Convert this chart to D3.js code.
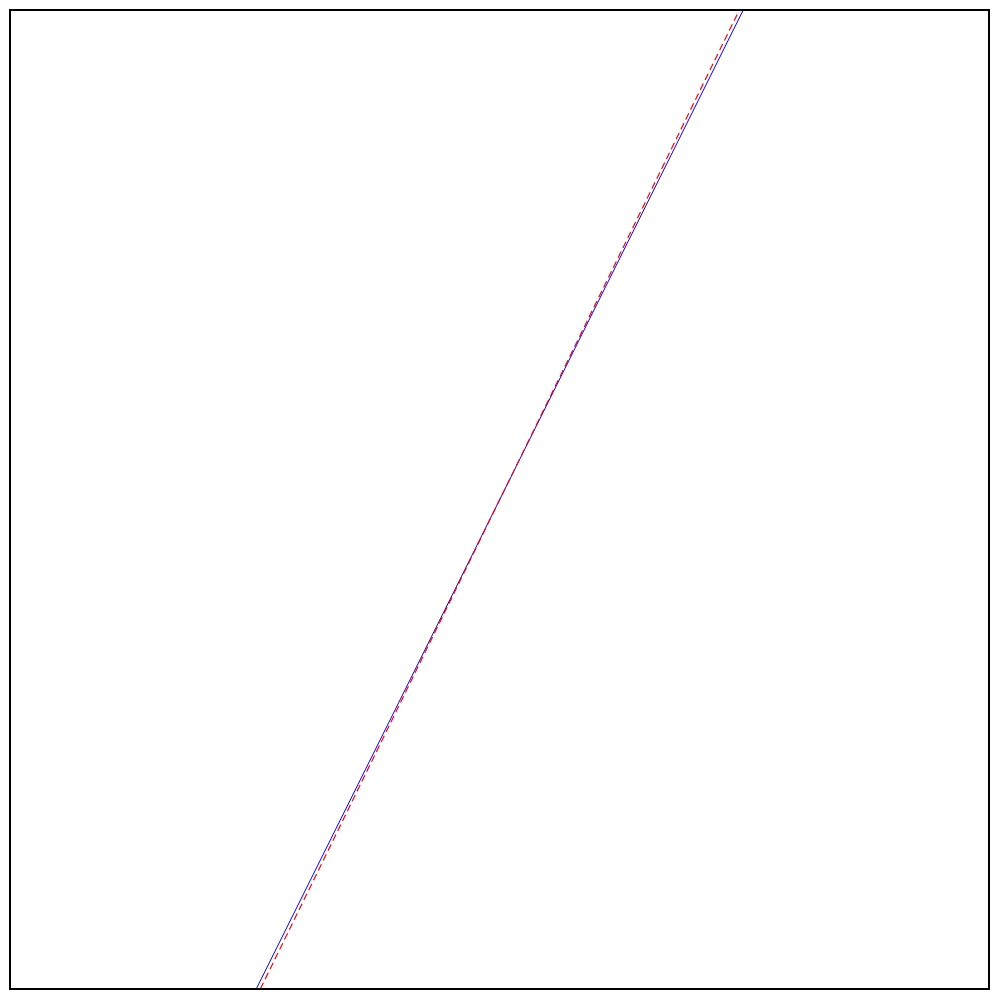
<!DOCTYPE html>
<html><head><meta charset="utf-8">
<script src="https://cdn.jsdelivr.net/npm/d3@7"></script>
<style>body{margin:0;background:#fff}</style>
</head><body>
<script>
// Data
const blueX = [0.2515, 0.749];
const blueY = [0, 1];
const redX = [0.2557, 0.745];
const redY = [0, 1];

(function () {
const W = 999, H = 999;
const mL = 10, mT = 10, mR = 989, mB = 989;
const svg = d3.select("body").append("svg").attr("width", W).attr("height", H);
const x = d3.scaleLinear().domain([0, 1]).range([mL, mR]);
const y = d3.scaleLinear().domain([0, 1]).range([mB, mT]);

svg.append("defs").append("clipPath").attr("id", "clip")
  .append("rect").attr("x", mL).attr("y", mT).attr("width", mR - mL).attr("height", mB - mT);

const line = d3.line().x(d => x(d[0])).y(d => y(d[1]));
const g = svg.append("g").attr("clip-path", "url(#clip)");
g.append("path").datum(blueX.map((v, i) => [v, blueY[i]]))
  .attr("d", line).attr("fill", "none").attr("stroke", "#0000ff").attr("stroke-width", 1);
g.append("path").datum(redX.map((v, i) => [v, redY[i]]))
  .attr("d", line).attr("fill", "none").attr("stroke", "#ff0000").attr("stroke-width", 1.2)
  .attr("stroke-dasharray", "7,4");

svg.append("rect").attr("x", mL).attr("y", mT).attr("width", mR - mL).attr("height", mB - mT)
  .attr("fill", "none").attr("stroke", "#000").attr("stroke-width", 2);
})();
</script>
</body></html>
